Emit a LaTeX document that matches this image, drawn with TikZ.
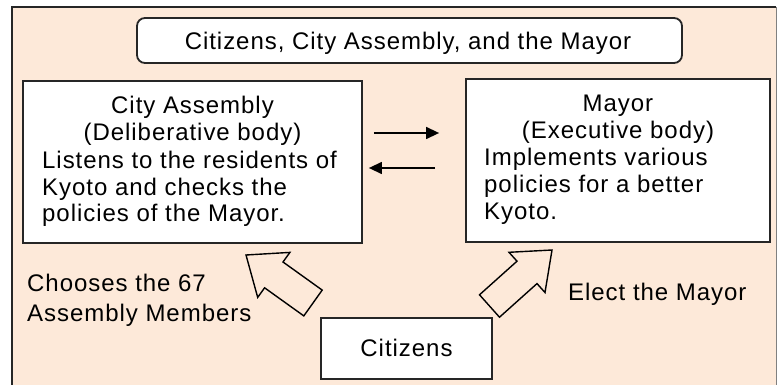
\documentclass[tikz,border=0pt]{standalone}
\usepackage{fontspec}
\setmainfont{Liberation Sans}[LetterSpace=4]
\usetikzlibrary{arrows.meta}
\definecolor{peach}{HTML}{FDE9D9}
\definecolor{edge}{HTML}{262626}
\begin{document}
\begin{tikzpicture}[x=1pt,y=-1pt,
  txt/.style={inner sep=0pt, font=\fontsize{24}{28}\selectfont},
  boxA/.style={draw=edge, line width=1.8pt, fill=white, inner sep=0pt},
  thinarrow/.style={line width=1.4pt, -{Triangle[length=13pt,width=12pt]}},
  block/.style={draw=black, line width=1.4pt, line join=miter}]
\useasboundingbox (0,0) rectangle (782,385);
\fill[peach] (12,7) rectangle (776,400);
\draw[edge, line width=1.5pt] (12,400) -- (12,7) -- (776,7);
\draw[gray, line width=1pt] (776,7) -- (776,400);

% boxes
\node[boxA, rounded corners=8pt, minimum width=545pt, minimum height=45pt] (T) at (409.5,40.5) {};
\node[boxA, minimum width=339pt, minimum height=162pt] (L) at (192.5,162) {};
\node[boxA, minimum width=304pt, minimum height=163pt] (R) at (618,160.5) {};
\node[boxA, minimum width=171pt, minimum height=61pt] (C) at (406.5,348.5) {};

% texts
\node[txt, anchor=base] (tT) at (408,50) {Citizens, City Assembly, and the Mayor};
\node[txt, anchor=base] (l1) at (192.5,114) {City Assembly};
\node[txt, anchor=base] (l2) at (192.5,141) {(Deliberative body)};
\node[txt, anchor=base west] (l3) at (42,168) {Listens to the residents of};
\node[txt, anchor=base west] (l4) at (42,195) {Kyoto and checks the};
\node[txt, anchor=base west] (l5) at (42,221) {policies of the Mayor.};
\node[txt, anchor=base] (r1) at (618,112) {Mayor};
\node[txt, anchor=base] (r2) at (618,139) {(Executive body)};
\node[txt, anchor=base west] (r3) at (484,166) {Implements various};
\node[txt, anchor=base west] (r4) at (484,193) {policies for a better};
\node[txt, anchor=base west] (r5) at (484,219) {Kyoto.};
\node[txt, anchor=base] (tC) at (406.5,356) {Citizens};
\node[txt, anchor=base west] (a1) at (27,291) {Chooses the 67};
\node[txt, anchor=base west] (a2) at (27,321) {Assembly Members};
\node[txt, anchor=base west] (e1) at (568,300) {Elect the Mayor};

% thin arrows between the boxes
\draw[thinarrow] ([xshift=11pt]L.east |- 0,133) -- ([xshift=-26pt]R.west |- 0,133);
\draw[thinarrow] ([xshift=-30pt]R.west |- 0,168) -- ([xshift=6pt]L.east |- 0,168);

% block arrows from citizens
\draw[block] (246,255) -- (289.9,252.4) -- (283.0,262.0) -- (322.2,290.1)
  -- (303.8,315.9) -- (264.6,287.8) -- (257.7,297.4) -- cycle;
\draw[block] (552,250) -- (545.0,292.5) -- (537.0,283.6) -- (499.5,317.2)
  -- (479.5,294.8) -- (517.0,261.2) -- (509.0,252.3) -- cycle;
\end{tikzpicture}
\end{document}
